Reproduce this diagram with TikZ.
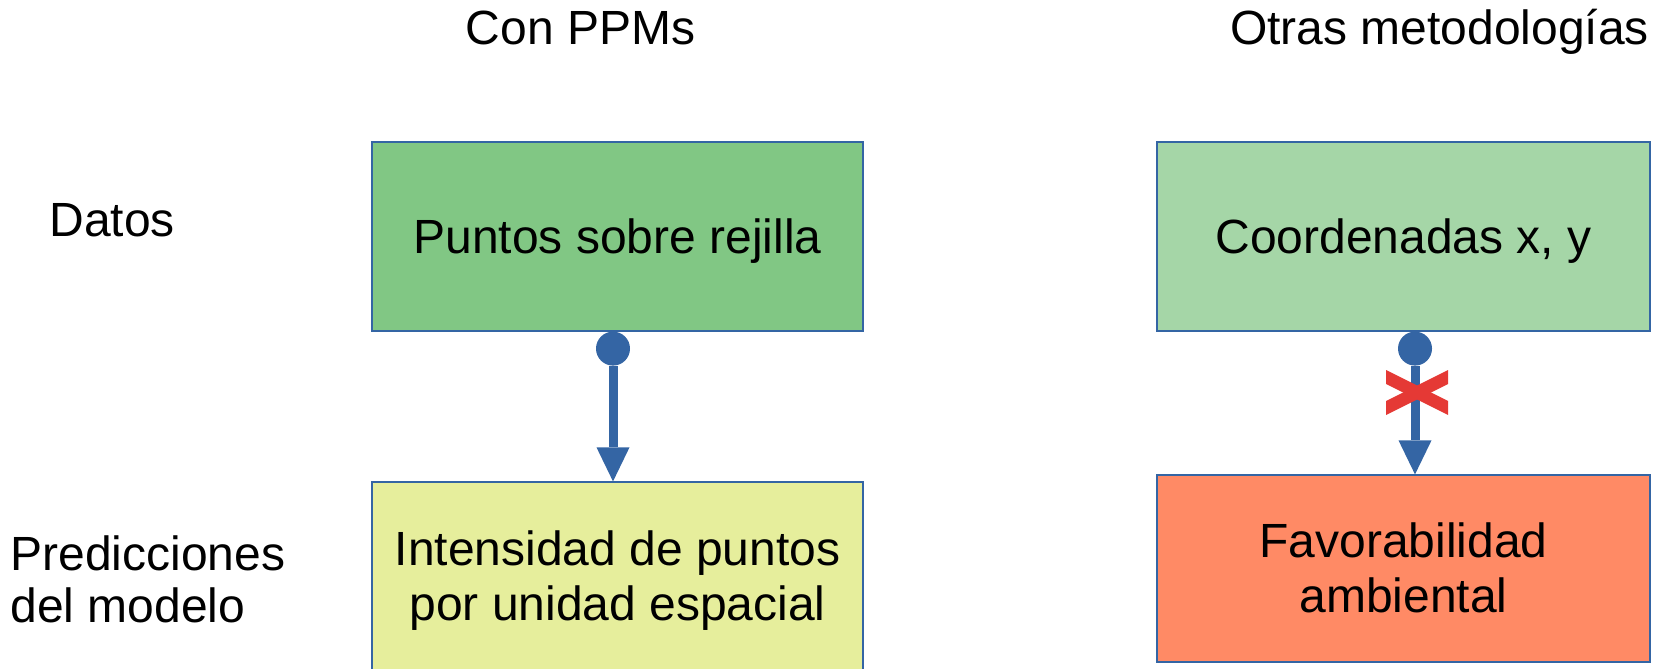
\documentclass[tikz,border=0pt]{standalone}
\usepackage{fontspec}
\setmainfont{Liberation Sans}
\usetikzlibrary{arrows.meta}
\definecolor{boxA}{HTML}{81C784}
\definecolor{boxB}{HTML}{A5D6A7}
\definecolor{boxC}{HTML}{E6EE9C}
\definecolor{boxD}{HTML}{FF8A65}
\definecolor{arrowblue}{HTML}{3465A4}
\definecolor{crossred}{HTML}{E53935}
\newcommand\lostrut{\rule[-0.212em]{0pt}{1.117em}}
\newcommand\smstrut{\rule[-0.1em]{0pt}{0.9em}}
\begin{document}
\begin{tikzpicture}[x=0.5pt,y=-0.5pt,
  every node/.style={font=\fontsize{24pt}{27.6pt}\selectfont, inner sep=0pt},
  box/.style={draw=arrowblue, line width=0.6pt, align=center},
  lbl/.style={anchor=base},
  conn/.style={draw=arrowblue, line width=4.5pt,
    {Circle[length=17pt,line width=0pt]}-{Triangle[width=16.5pt,length=17pt,line width=0pt]}},
  crossbar/.style={fill=crossred}]
\useasboundingbox (0,0) rectangle (1654,669);

% column titles
\node[lbl] (t1) at (580.5,44) {Con PPMs};
\node[lbl] (t2) at (1439.5,44) {Otras metodologías};

% row labels
\node[anchor=base west] (l1) at (49,236) {Datos};
\node[anchor=west, align=left, font=\fontsize{24pt}{26pt}\selectfont] (l2) at (10,579.2) {Predicciones\smstrut\\del modelo\smstrut};

% boxes
\node[box, fill=boxA, minimum width=245.5pt, minimum height=94.5pt] (b1) at (617.5,236.5) {Puntos sobre rejilla\lostrut};
\node[box, fill=boxC, minimum width=245.5pt, minimum height=94.5pt] (b3) at (617.5,576.5) {Intensidad de puntos\lostrut\\por unidad espacial\lostrut};
\node[box, fill=boxB, minimum width=246.5pt, minimum height=94.5pt] (b2) at (1403.5,236.5) {Coordenadas x, y\lostrut};
\node[box, fill=boxD, minimum width=246.5pt, minimum height=93.5pt] (b4) at (1403.5,568.5) {Favorabilidad\lostrut\\ambiental\lostrut};

% connectors
\coordinate (c1) at (613,0);
\coordinate (c2) at (1415,0);
\draw[conn] (b1.south -| c1) -- (b3.north -| c1);
\draw[conn] (b2.south -| c2) -- (b4.north -| c2);

% red cross
\fill[crossbar] (1386,370) -- (1448,401) -- (1448,415) -- (1386,384) -- cycle;
\fill[crossbar] (1386,401) -- (1448,370) -- (1448,384) -- (1386,415) -- cycle;
\end{tikzpicture}
\end{document}
